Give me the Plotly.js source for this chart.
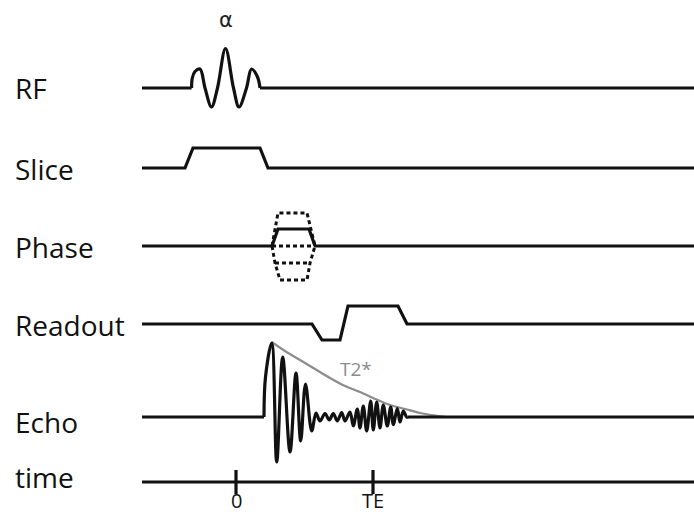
<!DOCTYPE html>
<html>
<head>
<meta charset="utf-8">
<script src="https://cdn.plot.ly/plotly-3.0.1.min.js"></script>
<style>html,body{margin:0;padding:0;background:#fff;}#chart{width:694px;height:515px;}</style>
</head>
<body>
<div id="chart"></div>
<script>
// ---- Data (time in arbitrary units, 0 at excitation centre; amplitudes in arbitrary units) ----
const channelNames = ['RF', 'Slice', 'Phase', 'Readout', 'Echo', 'time'];

// RF excitation pulse (alpha)
const rfBaseT = [-94, -44.4, null, 24, 458];
const rfPulseT = [-44.4, -43.7, -41, -36, -31, -24.5, -18.5, -10.5, -2.5, 3, 10.5, 15.5, 21.5, 24];
const rfPulseA = [0, 10, 16.5, 19, 0, -19, 0, 39.5, 0, -19, 0, 19, 11, 0];

// Slice-select gradient
const sliceT = [-94, -51, -43, 24, 32, 458];
const sliceA = [0, 0, 20, 20, 0, 0];

// Phase-encode gradient (solid step + dotted table steps)
const phaseT = [-94, 36, 42, 73, 79, 458];
const phaseA = [0, 0, 17, 17, 0, 0];
const phaseTopT = [36, 39, 42, 71, 75, 79];
const phaseTopA = [0, 17, 33, 33, 17, 0];
const phaseZeroT = [36, 79];
const phaseZeroA = [0, 0];
const phaseMidT = [39, 74];
const phaseMidA = [-17, -17];
const phaseBotT = [36, 39, 44, 71, 74, 79];
const phaseBotA = [0, -17, -34, -34, -17, 0];

// Readout gradient
const readT = [-94, 76, 86, 104, 112, 162, 171, 458];
const readA = [0, 0, -16, -16, 18, 18, 0, 0];

// Echo signal (FID then gradient echo)
const echoBaseT = [-94, 28, null, 172, 458];
const echoT = [28, 29.5, 35.7, 40.7, 46.7, 54, 60, 64.7, 69.5, 75.7, 80, 84, 89, 93.3, 97.3, 101.3,
               105.7, 109, 114, 117.3, 121.3, 124, 127.3, 130.7, 134.7, 137.3, 140.7, 144, 147.3,
               151.3, 154.7, 157.3, 161.3, 164, 167.3, 170.7, 172];
const echoA = [0, 40, 74, -45, 60, -35, 44, -24, 33, -14, 4, -4, 3.5, -3, 3.5, -4,
               4.5, -4, 5, -9, 8, -11, 11, -14, 16, -13, 15, -11, 12,
               -9, 10, -7.5, 8.5, -5, 6, 0, 0];

// T2* decay envelope
const t2T = [35.7, 49, 64, 79, 94, 109, 124, 137, 154, 169, 184, 199, 211];
const t2A = [75, 66, 57, 48, 39, 31, 25, 19, 12, 8, 4, 1.5, 0];

// Time axis
const timeLineT = [-94, 458];
const timeTicks = [0, 137];
const timeTickLabels = ['0', 'TE'];

// ---- Layout positions (pixel rows of each channel baseline) ----
const baseY = {RF: 88, Slice: 168, Phase: 246, Readout: 324, Echo: 417, time: 482};
const labelY = {RF: 88, Slice: 168.5, Phase: 247, Readout: 324.5, Echo: 422, time: 476.5};

const INK = '#111111';
const LW = 3.2;
function ys(base, amps) { return amps.map(a => (a === null ? null : base - a)); }
function flat(base, ts) { return ts.map(t => (t === null ? null : base)); }
function line(x, y, extra) {
  return Object.assign({
    type: 'scatter', mode: 'lines', x: x, y: y, hoverinfo: 'skip',
    line: {color: INK, width: LW}, connectgaps: false
  }, extra || {});
}
const smooth = {color: INK, width: LW, shape: 'spline', smoothing: 1};

const traces = [];
// RF
traces.push(line(rfBaseT, flat(baseY.RF, rfBaseT)));
traces.push(line(rfPulseT, ys(baseY.RF, rfPulseA), {line: smooth}));
// Slice
traces.push(line(sliceT, ys(baseY.Slice, sliceA)));
// Phase
const dotted = {color: INK, width: 3, dash: '4px,3px'};
traces.push(line(phaseTopT, ys(baseY.Phase, phaseTopA), {line: dotted}));
traces.push(line(phaseZeroT, ys(baseY.Phase, phaseZeroA), {line: dotted}));
traces.push(line(phaseMidT, ys(baseY.Phase, phaseMidA), {line: dotted}));
traces.push(line(phaseBotT, ys(baseY.Phase, phaseBotA), {line: dotted}));
traces.push(line(phaseT.slice(0, 2), ys(baseY.Phase, phaseA.slice(0, 2))));
traces.push(line(phaseT.slice(1, 5), ys(baseY.Phase, phaseA.slice(1, 5))));
traces.push(line(phaseT.slice(4), ys(baseY.Phase, phaseA.slice(4))));
// Readout
traces.push(line(readT, ys(baseY.Readout, readA)));
// T2* envelope
traces.push(line(t2T, ys(baseY.Echo, t2A), {line: {color: '#8c8c8c', width: 2.2, shape: 'spline', smoothing: 1}}));
// Echo
traces.push(line(echoBaseT, flat(baseY.Echo, echoBaseT)));
traces.push(line(echoT, ys(baseY.Echo, echoA), {line: smooth}));
// Time axis
traces.push(line(timeLineT, flat(baseY.time, timeLineT)));
timeTicks.forEach(t => traces.push(line([t, t], [baseY.time - 12, baseY.time + 12])));

const labelFont = {family: 'Open Sans, sans-serif', size: 28, color: '#111'};
const annotations = channelNames.map(n => ({
  x: -223, y: labelY[n], xref: 'x', yref: 'y', text: n, showarrow: false,
  xanchor: 'left', yanchor: 'middle', font: labelFont
}));
timeTicks.forEach((t, i) => annotations.push({
  x: t, y: 515, xref: 'x', yref: 'y', yshift: -1, text: timeTickLabels[i], showarrow: false,
  xanchor: 'center', yanchor: 'bottom', font: {family: 'Open Sans, sans-serif', size: 20, color: '#111'}
}));
annotations.push({x: -10, y: 20, xref: 'x', yref: 'y', text: 'α', showarrow: false,
  xanchor: 'center', yanchor: 'middle', font: {family: 'DejaVu Sans, sans-serif', size: 21, color: '#222'}});
annotations.push({x: 120, y: 369, xref: 'x', yref: 'y', text: 'T2*', showarrow: false,
  xanchor: 'center', yanchor: 'middle', font: {family: 'Open Sans, sans-serif', size: 19, color: '#8c8c8c'}});

const layout = {
  width: 694, height: 515,
  margin: {l: 0, r: 0, t: 0, b: 0},
  paper_bgcolor: '#ffffff', plot_bgcolor: '#ffffff',
  showlegend: false, hovermode: false,
  xaxis: {range: [-236, 458], visible: false, fixedrange: true},
  yaxis: {range: [515, 0], visible: false, fixedrange: true},
  annotations: annotations
};

Plotly.newPlot('chart', traces, layout, {staticPlot: true, displayModeBar: false});
</script>
</body>
</html>
